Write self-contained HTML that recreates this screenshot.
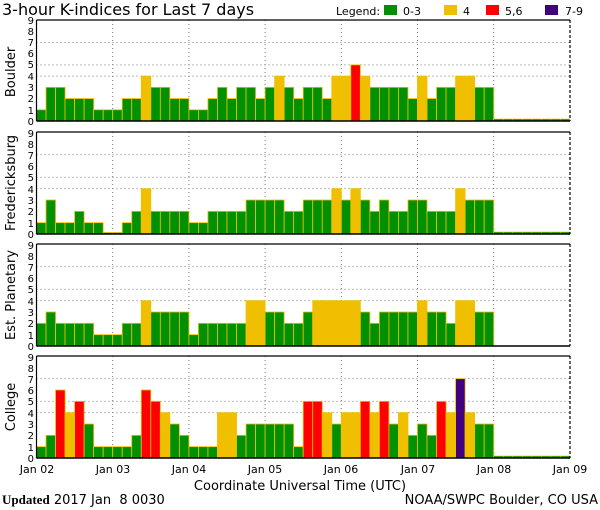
<!DOCTYPE html>
<html><head><meta charset="utf-8"><style>
body{margin:0;background:#fff}
svg{display:block}
text{font-family:"DejaVu Sans","Liberation Sans",sans-serif;fill:#000}
</style></head><body>
<svg id="s" width="600" height="510" xmlns="http://www.w3.org/2000/svg">
<text x="2" y="15" font-size="16">3-hour K-indices for Last 7 days</text>
<text x="336" y="15" font-size="11">Legend:</text>
<rect x="384" y="5" width="13" height="10" fill="#009000"/><text x="403" y="15" font-size="11">0-3</text>
<rect x="444" y="5" width="13" height="10" fill="#f0c000"/><text x="463" y="15" font-size="11">4</text>
<rect x="486" y="5" width="13" height="10" fill="#ff0000"/><text x="505" y="15" font-size="11">5,6</text>
<rect x="545" y="5" width="13" height="10" fill="#400080"/><text x="565" y="15" font-size="11">7-9</text>
<g id="bars"></g>
<text transform="translate(15,72) rotate(-90)" font-size="13" text-anchor="middle">Boulder</text>
<text transform="translate(15,183) rotate(-90)" font-size="13" text-anchor="middle">Fredericksburg</text>
<text transform="translate(15,295) rotate(-90)" font-size="13" text-anchor="middle">Est. Planetary</text>
<text transform="translate(15,407) rotate(-90)" font-size="13" text-anchor="middle">College</text>
<g font-size="10" text-anchor="end">
<text x="34" y="125">0</text><text x="34" y="114">1</text><text x="34" y="102">2</text><text x="34" y="91">3</text><text x="34" y="80">4</text><text x="34" y="68">5</text><text x="34" y="57">6</text><text x="34" y="46">7</text><text x="34" y="35">8</text><text x="34" y="24">9</text>
<text x="34" y="238">0</text><text x="34" y="227">1</text><text x="34" y="215">2</text><text x="34" y="204">3</text><text x="34" y="193">4</text><text x="34" y="181">5</text><text x="34" y="170">6</text><text x="34" y="159">7</text><text x="34" y="148">8</text><text x="34" y="137">9</text>
<text x="34" y="350">0</text><text x="34" y="339">1</text><text x="34" y="327">2</text><text x="34" y="316">3</text><text x="34" y="305">4</text><text x="34" y="293">5</text><text x="34" y="282">6</text><text x="34" y="271">7</text><text x="34" y="260">8</text><text x="34" y="249">9</text>
<text x="34" y="462">0</text><text x="34" y="451">1</text><text x="34" y="439">2</text><text x="34" y="428">3</text><text x="34" y="417">4</text><text x="34" y="405">5</text><text x="34" y="394">6</text><text x="34" y="383">7</text><text x="34" y="372">8</text><text x="34" y="361">9</text>
</g>
<g font-size="11" text-anchor="middle">
<text x="37" y="473">Jan 02</text><text x="113" y="473">Jan 03</text><text x="189" y="473">Jan 04</text><text x="265" y="473">Jan 05</text><text x="341" y="473">Jan 06</text><text x="418" y="473">Jan 07</text><text x="494" y="473">Jan 08</text><text x="570" y="473">Jan 09</text>
</g>
<text x="300" y="490" font-size="13" text-anchor="middle">Coordinate Universal Time (UTC)</text>
<text x="2" y="504" font-size="13" xml:space="preserve" style="white-space:pre"><tspan font-weight="bold" font-family="Liberation Serif,serif">Updated</tspan> 2017 Jan  8 0030</text>
<text x="598" y="504" font-size="13" text-anchor="end">NOAA/SWPC Boulder, CO USA</text>
</svg>
<script>
var P=[[20,121],[132,234],[244,346],[356,458]];
var D=[
[1,3,3,2,2,2,1,1, 1,2,2,4,3,3,2,2, 1,1,2,3,2,3,3,2, 3,4,3,2,3,3,2,4, 4,5,4,3,3,3,3,2, 4,2,3,3,4,4,3,3],
[1,3,1,1,2,1,1,0, 0,1,2,4,2,2,2,2, 1,1,2,2,2,2,3,3, 3,3,2,2,3,3,3,4, 3,4,3,2,3,2,2,3, 3,2,2,2,4,3,3,3],
[2,3,2,2,2,2,1,1, 1,2,2,4,3,3,3,3, 1,2,2,2,2,2,4,4, 3,3,2,2,3,4,4,4, 4,4,3,2,3,3,3,3, 4,3,3,2,4,4,3,3],
[1,2,6,4,5,3,1,1, 1,1,2,6,5,4,3,2, 1,1,1,4,4,2,3,3, 3,3,3,1,5,5,4,3, 4,4,5,4,5,3,4,2, 3,2,5,4,7,4,3,3]];
var L=36.5,DW=76.2,BW=DW/8,s='';
function col(v){return v>=7?'#400080':v>=5?'#ff0000':v==4?'#f0c000':'#009000';}
for(var p=0;p<4;p++){var t=P[p][0],b=P[p][1],u=(b-t)/9;
 [4,5,7].forEach(function(k){var y=b-k*u;s+='<line x1="'+L+'" x2="570" y1="'+y+'" y2="'+y+'" stroke="#777" stroke-dasharray="1,3"/>';});
 for(var d=1;d<7;d++){var x=L+d*DW;s+='<line x1="'+x+'" x2="'+x+'" y1="'+t+'" y2="'+b+'" stroke="#777" stroke-dasharray="1,3"/>';}
 for(var i=0;i<56;i++){var v=D[p][i],x=L+i*BW,h=Math.max(v*u,1.5);
  s+='<rect x="'+x+'" y="'+(b-h)+'" width="'+BW+'" height="'+h+'" fill="'+col(v)+'" stroke="#f0c000" stroke-width="0.8"/>';}
 if(p!=2){for(var i=48;i<56;i++){var x=L+i*BW;s+='<rect x="'+x+'" y="'+(b-2)+'" width="'+BW+'" height="2" fill="#009000" stroke="#f0c000" stroke-width="0.6"/>';}}
 s+='<line x1="'+L+'" x2="570" y1="'+t+'" y2="'+t+'" stroke="#000" stroke-width="1.2"/>';
 s+='<line x1="'+L+'" x2="570" y1="'+b+'" y2="'+b+'" stroke="#000" stroke-width="1.5"/>';
 s+='<line x1="'+L+'" x2="'+L+'" y1="'+t+'" y2="'+b+'" stroke="#000" stroke-width="1.2"/>';
 s+='<line x1="570" x2="570" y1="'+t+'" y2="'+b+'" stroke="#000" stroke-dasharray="3,2" stroke-width="1.2"/>';
}
document.getElementById('bars').innerHTML=s;
</script>
</body></html>
